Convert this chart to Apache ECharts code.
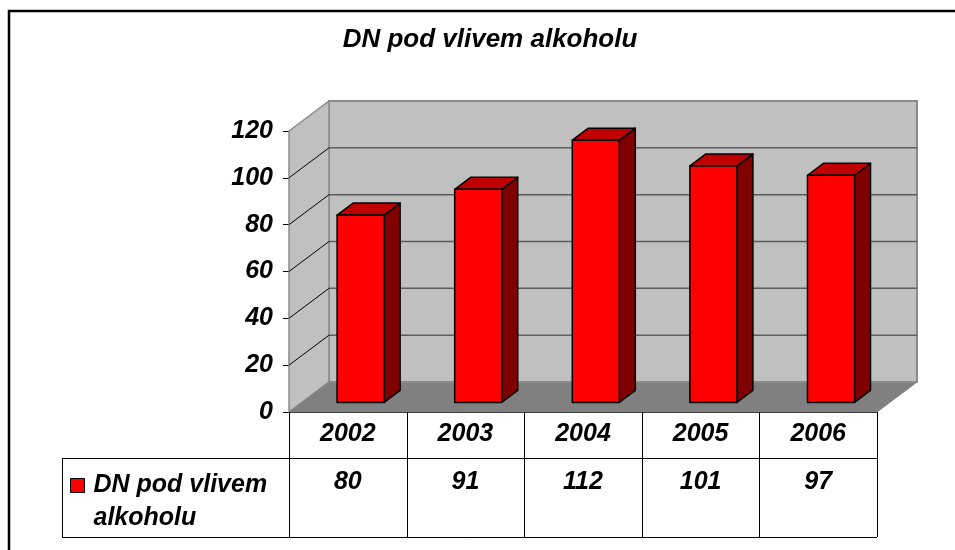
<!DOCTYPE html>
<html>
<head>
<meta charset="utf-8">
<style>
html,body{margin:0;padding:0;background:#fff;}
#chart{width:955px;height:550px;}
</style>
<script src="https://cdn.jsdelivr.net/npm/echarts@6/dist/echarts.min.js"></script>
</head>
<body>
<div id="chart"></div>
<script>
var categories = ['2002', '2003', '2004', '2005', '2006'];
var values = [80, 91, 112, 101, 97];
var yTicks = [0, 20, 40, 60, 80, 100, 120];
var seriesName = 'DN pod vlivem alkoholu';
var legendLines = ['DN pod vlivem', 'alkoholu'];
var titleText = 'DN pod vlivem alkoholu';

var FONT = "'Liberation Sans', Arial, sans-serif";
var DX = 40, DY = -30;       // depth offset of the 3D box
var F1 = 0.32, F2 = 0.72;    // bar front / back depth fraction
var BAR_W = 0.40;            // bar width as fraction of band
var ROW1 = 46, ROW2 = 79, LEGEND_LEFT = 62;

var chart = echarts.init(document.getElementById('chart'));

function renderFrame(params, api) {
  var cs = params.coordSys;
  var x0 = cs.x, x1 = cs.x + cs.width;
  var y0 = api.coord([0, yTicks[0]])[1];
  var yT = api.coord([0, yTicks[yTicks.length - 1]])[1];
  var ch = [];
  ch.push({type: 'polygon', shape: {points: [[x0, y0], [x1, y0], [x1 + DX, y0 + DY], [x0 + DX, y0 + DY]]},
    style: {fill: '#808080', stroke: '#808080', lineWidth: 1}});
  ch.push({type: 'polygon', shape: {points: [[x0 + DX, yT + DY], [x1 + DX, yT + DY], [x1 + DX, y0 + DY], [x0 + DX, y0 + DY]]},
    style: {fill: '#C0C0C0', stroke: '#8a8a8a', lineWidth: 2}});
  ch.push({type: 'polygon', shape: {points: [[x0, yT], [x0 + DX, yT + DY], [x0 + DX, y0 + DY], [x0, y0]]},
    style: {fill: '#C0C0C0', stroke: '#8a8a8a', lineWidth: 1.5}});
  ch.push({type: 'line', shape: {x1: x0, y1: y0, x2: x0 + DX, y2: y0 + DY}, style: {stroke: '#808080', lineWidth: 1}});
  for (var k = 1; k < yTicks.length - 1; k++) {
    var y = api.coord([0, yTicks[k]])[1];
    ch.push({type: 'line', shape: {x1: x0 + DX, y1: y + DY, x2: x1 + DX, y2: y + DY}, style: {stroke: '#5c5c5c', lineWidth: 1.5}});
    ch.push({type: 'line', shape: {x1: x0, y1: y, x2: x0 + DX, y2: y + DY}, style: {stroke: '#000', lineWidth: 1}});
  }
  var n = categories.length;
  var band = cs.width / n;
  var yb = y0 + ROW1 + ROW2;
  for (var j = 0; j <= n; j++) {
    var xx = Math.round(x0 + j * band) + 0.5;
    ch.push({type: 'line', shape: {x1: xx, y1: y0, x2: xx, y2: yb}, style: {stroke: '#000', lineWidth: 1}});
  }
  ch.push({type: 'line', shape: {x1: LEGEND_LEFT, y1: y0 + ROW1 + 0.5, x2: x1, y2: y0 + ROW1 + 0.5}, style: {stroke: '#000', lineWidth: 1}});
  ch.push({type: 'line', shape: {x1: LEGEND_LEFT, y1: yb + 0.5, x2: x1, y2: yb + 0.5}, style: {stroke: '#000', lineWidth: 1}});
  ch.push({type: 'line', shape: {x1: LEGEND_LEFT + 0.5, y1: y0 + ROW1, x2: LEGEND_LEFT + 0.5, y2: yb}, style: {stroke: '#000', lineWidth: 1}});
  return {type: 'group', children: ch};
}

function renderBar(params, api) {
  var i = api.value(0), v = api.value(1);
  var c = api.coord([i, v]);
  var b = api.coord([i, 0]);
  var band = api.size([1, 0])[0];
  var w = band * BAR_W;
  var l = c[0] + DX * F1 - w / 2, r = l + w;
  var t = c[1] + DY * F1, bt = b[1] + DY * F1;
  var ddx = DX * (F2 - F1), ddy = DY * (F2 - F1);
  var st = {stroke: '#000', lineWidth: 1.5, lineJoin: 'round'};
  return {type: 'group', children: [
    {type: 'polygon', shape: {points: [[r, t], [r + ddx, t + ddy], [r + ddx, bt + ddy], [r, bt]]},
      style: Object.assign({fill: '#800000'}, st)},
    {type: 'polygon', shape: {points: [[l, t], [r, t], [r + ddx, t + ddy], [l + ddx, t + ddy]]},
      style: Object.assign({fill: '#C00000'}, st)},
    {type: 'rect', shape: {x: l, y: t, width: w, height: bt - t},
      style: Object.assign({fill: '#FF0000'}, st)}
  ]};
}

var labelStyle = {color: '#000', fontFamily: FONT, fontWeight: 'bold', fontStyle: 'italic', fontSize: 25};

chart.setOption({
  animation: false,
  backgroundColor: '#fff',
  title: {
    text: titleText, left: 490, top: 27, textAlign: 'center', padding: 0,
    textStyle: {color: '#000', fontFamily: FONT, fontWeight: 'bold', fontStyle: 'italic', fontSize: 26}
  },
  legend: {
    data: [seriesName], left: 70, top: 436, padding: 0,
    icon: 'rect', itemWidth: 14, itemHeight: 14,
    itemStyle: {color: '#FF0000', borderColor: '#000', borderWidth: 1},
    formatter: function () { return '\n' + legendLines.join('\n'); },
    textStyle: {color: '#000', fontFamily: FONT, fontWeight: 'bold', fontStyle: 'italic', fontSize: 25, lineHeight: 33, padding: [0, 0, 0, 4]}
  },
  grid: {left: 289, right: 78, top: 131, bottom: 138},
  xAxis: [{
    type: 'category', data: categories, position: 'bottom',
    axisLine: {show: true, lineStyle: {color: '#000', width: 1}},
    axisTick: {show: false},
    axisLabel: Object.assign({margin: 22, verticalAlign: 'middle', interval: 0}, labelStyle),
    splitLine: {show: false}
  }, {
    type: 'category', data: categories, position: 'bottom',
    axisLine: {show: false}, axisTick: {show: false},
    axisLabel: Object.assign({margin: 70, verticalAlign: 'middle', interval: 0,
      formatter: function (v, idx) { return String(values[idx]); }}, labelStyle),
    splitLine: {show: false}
  }],
  yAxis: {
    type: 'value', min: yTicks[0], max: yTicks[yTicks.length - 1], interval: yTicks[1] - yTicks[0],
    axisLine: {show: true, lineStyle: {color: '#000', width: 1}},
    axisTick: {show: true, length: 6, lineStyle: {color: '#000'}},
    axisLabel: Object.assign({margin: 16, formatter: function (v) { return yTicks.indexOf(v) >= 0 ? String(v) : ''; }}, labelStyle),
    splitLine: {show: false}
  },
  graphic: [{
    type: 'rect', shape: {x: 9, y: 11, width: 1000, height: 1000},
    style: {fill: 'none', stroke: '#000', lineWidth: 2.5}, z: 100
  }],
  series: [{
    type: 'custom', name: '_frame', renderItem: renderFrame, clip: false, silent: true,
    data: [[0, 0]], z: 1
  }, {
    type: 'custom', name: seriesName, renderItem: renderBar, clip: false,
    itemStyle: {color: '#FF0000'},
    data: values.map(function (v, i) { return [i, v]; }), z: 3
  }]
});
</script>
</body>
</html>
